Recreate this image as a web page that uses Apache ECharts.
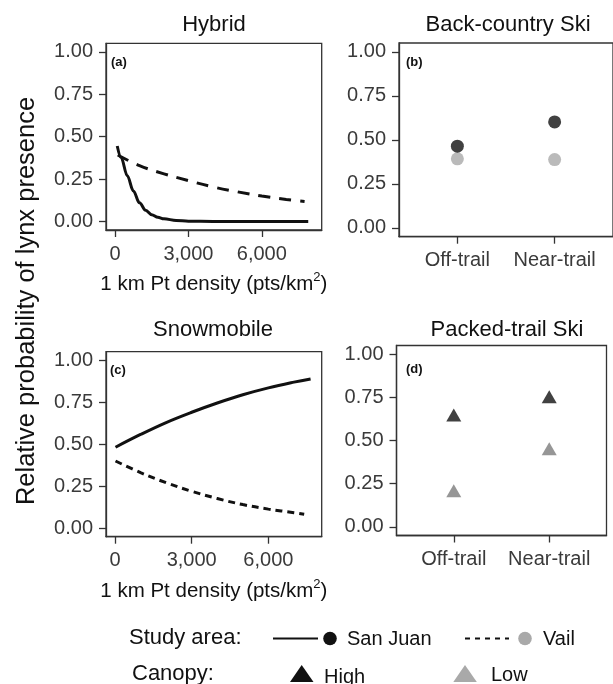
<!DOCTYPE html>
<html><head><meta charset="utf-8">
<script src="https://cdn.jsdelivr.net/npm/echarts@6/dist/echarts.min.js"></script>
<style>html,body{margin:0;padding:0;background:#fff}#c{width:613px;height:684px}</style>
</head><body><div id="c"></div>
<script>
// ---- data ----
const panelTitles = ['Hybrid', 'Back-country Ski', 'Snowmobile', 'Packed-trail Ski'];
const panelTags = ['(a)', '(b)', '(c)', '(d)'];
const densityTicks = [0, 3000, 6000];
const probTicks = [0, 0.25, 0.5, 0.75, 1];
const trailCategories = ['Off-trail', 'Near-trail'];
const xAxisTitle = '1 km Pt density (pts/km';
const yAxisTitle = 'Relative probability of lynx presence';

// (a) Hybrid: [density, probability]
const hybridSanJuan = [[90,0.445],[250,0.375],[500,0.27],[750,0.18],[1000,0.11],[1250,0.066],[1500,0.04],[1750,0.025],[2000,0.016],[2500,0.006],[3000,0.002],[4000,0.0005],[5000,0],[6500,0],[7900,0]];
const hybridVail = [[110,0.392],[1000,0.329],[2000,0.281],[3000,0.241],[4000,0.204],[5000,0.175],[6000,0.150],[7000,0.130],[7750,0.118]];
// (c) Snowmobile
const snowSanJuan = [[20,0.482],[1000,0.558],[2000,0.629],[3000,0.690],[4000,0.745],[5000,0.794],[6000,0.835],[7000,0.869],[7650,0.888]];
const snowVail = [[20,0.400],[1000,0.331],[2000,0.271],[3000,0.220],[4000,0.177],[5000,0.141],[6000,0.114],[7000,0.093],[7400,0.084]];
// (b) Back-country Ski (by trail category)
const backSanJuan = [0.464, 0.602];
const backVail = [0.392, 0.388];
// (d) Packed-trail Ski (by canopy)
const packedHigh = [0.636, 0.742];
const packedLow = [0.197, 0.441];

// ---- chart ----
const FONT = "'Liberation Sans', Arial, Helvetica, sans-serif";
const BLACK = '#111111';
const VAIL_GREY = '#a9a9a9';
const LOW_GREY = '#7c7c7c';
const AXIS = '#333333';
const TICK_TXT = '#3a3a3a';

const grids = [
  {left: 106, top: 43.3, width: 215.7, height: 186.7},
  {left: 399, top: 43, width: 216, height: 193.7},
  {left: 106, top: 351.7, width: 215.7, height: 185},
  {left: 396.5, top: 345.5, width: 210, height: 190}
].map(g => Object.assign({show: true, borderColor: AXIS, borderWidth: 1.3, backgroundColor: 'transparent'}, g));

function yAx(i) {
  return {
    type: 'value', gridIndex: i, min: -0.05, max: 1.05,
    splitLine: {show: false},
    axisLine: {show: true, onZero: false, lineStyle: {color: AXIS, width: 1.3}},
    axisTick: {show: true, length: 7, customValues: probTicks, lineStyle: {color: AXIS, width: 1.3}},
    axisLabel: {customValues: probTicks, formatter: v => v.toFixed(2), fontSize: 20, color: TICK_TXT, margin: 13, fontFamily: FONT}
  };
}
function xDensity(i, min, max) {
  return {
    type: 'value', gridIndex: i, min: min, max: max,
    splitLine: {show: false},
    axisLine: {show: true, onZero: false, lineStyle: {color: AXIS, width: 1.3}},
    axisTick: {show: true, length: 7, customValues: densityTicks, lineStyle: {color: AXIS, width: 1.3}},
    axisLabel: {customValues: densityTicks, formatter: v => v.toLocaleString('en-US'), fontSize: 20, color: TICK_TXT, margin: 14, fontFamily: FONT},
    name: '{m|' + xAxisTitle + '}{s|2}{m|)}',
    nameLocation: 'middle', nameGap: 41,
    nameTextStyle: {
      fontFamily: FONT, color: BLACK,
      rich: {
        m: {fontSize: 20.5, lineHeight: 24, fontFamily: FONT, color: BLACK, verticalAlign: 'bottom'},
        s: {fontSize: 13, lineHeight: 16, fontFamily: FONT, color: BLACK, verticalAlign: 'top'}
      }
    }
  };
}
function xTrail(i) {
  return {
    type: 'value', gridIndex: i, min: 0.4, max: 2.6,
    splitLine: {show: false},
    axisLine: {show: true, onZero: false, lineStyle: {color: AXIS, width: 1.3}},
    axisTick: {show: true, length: 7, customValues: [1, 2], lineStyle: {color: AXIS, width: 1.3}},
    axisLabel: {customValues: [1, 2], formatter: v => trailCategories[Math.round(v) - 1], fontSize: 20, color: TICK_TXT, margin: 14, fontFamily: FONT}
  };
}
const catData = arr => arr.map((v, k) => [k + 1, v]);

const series = [
  {type: 'line', xAxisIndex: 0, yAxisIndex: 0, data: hybridSanJuan, showSymbol: false, smooth: 0.35, smoothMonotone: 'x',
   lineStyle: {color: BLACK, width: 3}},
  {type: 'line', xAxisIndex: 0, yAxisIndex: 0, data: hybridVail, showSymbol: false, smooth: 0.4,
   lineStyle: {color: BLACK, width: 3, type: [12, 9]}},
  {type: 'scatter', xAxisIndex: 1, yAxisIndex: 1, data: catData(backVail), symbol: 'circle', symbolSize: 13,
   itemStyle: {color: VAIL_GREY}},
  {type: 'scatter', xAxisIndex: 1, yAxisIndex: 1, data: catData(backSanJuan), symbol: 'circle', symbolSize: 13,
   itemStyle: {color: BLACK}},
  {type: 'line', xAxisIndex: 2, yAxisIndex: 2, data: snowSanJuan, showSymbol: false, smooth: 0.4,
   lineStyle: {color: BLACK, width: 3}},
  {type: 'line', xAxisIndex: 2, yAxisIndex: 2, data: snowVail, showSymbol: false, smooth: 0.4,
   lineStyle: {color: BLACK, width: 3, type: [7, 5]}},
  {type: 'scatter', xAxisIndex: 3, yAxisIndex: 3, data: catData(packedHigh), symbol: 'triangle', symbolSize: [15, 13], symbolOffset: [0, -2],
   itemStyle: {color: BLACK}},
  {type: 'scatter', xAxisIndex: 3, yAxisIndex: 3, data: catData(packedLow), symbol: 'triangle', symbolSize: [15, 13], symbolOffset: [0, -2],
   itemStyle: {color: LOW_GREY}}
].map(s => Object.assign({silent: true, animation: false}, s));

function txt(x, y, text, font, extra) {
  return Object.assign({type: 'text', x: x, y: y, silent: true,
    style: Object.assign({text: text, font: font, fill: BLACK, textAlign: 'left', textVerticalAlign: 'middle'}, extra || {})});
}
const graphics = [
  txt(214, 25, panelTitles[0], "22px " + FONT, {textAlign: 'center'}),
  txt(508, 25, panelTitles[1], "22px " + FONT, {textAlign: 'center'}),
  txt(213, 330, panelTitles[2], "22px " + FONT, {textAlign: 'center'}),
  txt(507, 330, panelTitles[3], "22px " + FONT, {textAlign: 'center'}),
  txt(111, 62.5, panelTags[0], "bold 13px " + FONT),
  txt(406, 62.5, panelTags[1], "bold 13px " + FONT),
  txt(110, 370, panelTags[2], "bold 13px " + FONT),
  txt(406, 369, panelTags[3], "bold 13px " + FONT),
  {type: 'text', x: 27, y: 301, rotation: Math.PI / 2, silent: true,
   style: {text: yAxisTitle, font: "25.5px " + FONT, fill: BLACK, textAlign: 'center', textVerticalAlign: 'middle'}},
  // legend
  txt(129, 638, 'Study area:', "22px " + FONT),
  {type: 'line', silent: true, shape: {x1: 273, y1: 638.5, x2: 318, y2: 638.5}, style: {stroke: BLACK, lineWidth: 2}},
  {type: 'circle', silent: true, shape: {cx: 330, cy: 638.5, r: 6.8}, style: {fill: BLACK}},
  txt(347, 639, 'San Juan', "20px " + FONT),
  {type: 'line', silent: true, shape: {x1: 465, y1: 638.5, x2: 509, y2: 638.5}, style: {stroke: BLACK, lineWidth: 2, lineDash: [5, 5]}},
  {type: 'circle', silent: true, shape: {cx: 525, cy: 638.5, r: 6.8}, style: {fill: VAIL_GREY}},
  txt(543, 639, 'Vail', "20px " + FONT),
  txt(132, 674, 'Canopy:', "22px " + FONT),
  {type: 'polygon', silent: true, shape: {points: [[290, 682], [313.5, 682], [301.7, 665]]}, style: {fill: BLACK}},
  txt(324, 677, 'High', "20px " + FONT),
  {type: 'polygon', silent: true, shape: {points: [[453.3, 682], [476.8, 682], [465, 665]]}, style: {fill: VAIL_GREY}},
  txt(491, 675, 'Low', "20px " + FONT)
];

const chart = echarts.init(document.getElementById('c'), null, {renderer: 'canvas'});
chart.setOption({
  animation: false,
  backgroundColor: '#ffffff',
  textStyle: {fontFamily: FONT},
  grid: grids,
  xAxis: [xDensity(0, -370, 8450), xTrail(1), xDensity(2, -352, 8085), xTrail(3)],
  yAxis: [yAx(0), yAx(1), yAx(2), yAx(3)],
  series: series,
  graphic: graphics
});
</script></body></html>
